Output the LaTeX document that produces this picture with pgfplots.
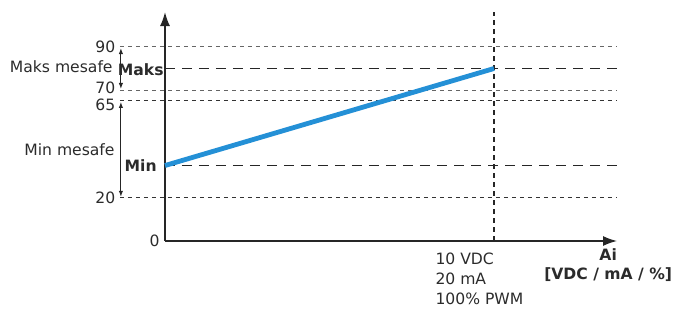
\documentclass[border=0pt]{standalone}
\usepackage{pgfplots}
\pgfplotsset{compat=1.18}
\usetikzlibrary{arrows.meta}
\usepackage{fontspec}
\setmainfont{DejaVu Sans}
\definecolor{lineblue}{HTML}{2490D6}
\definecolor{txt}{HTML}{2B2B2B}
\begin{document}
\begin{tikzpicture}
\begin{axis}[
  x=16.45pt, y=1.078pt,
  xmin=0, xmax=13.74, ymin=0, ymax=106.2,
  axis lines=left,
  axis line style={line width=0.8pt, black!85, -{Latex[length=7pt,width=5pt]}},
  xtick=\empty, ytick=\empty,
  clip=false,
  font=\fontsize{7.8}{10}\selectfont,
]
% invisible bounding box
\path (axis cs:-5.015,-31.54) rectangle (axis cs:16.079,111.78);
% thin dashed reference lines
\addplot[gray!80!black, line width=0.5pt, dash pattern=on 2pt off 2pt] coordinates {(-1.37,90) (13.74,90)};
\addplot[gray!80!black, line width=0.5pt, dash pattern=on 2pt off 2pt] coordinates {(-1.37,70) (13.74,70)};
\addplot[black!80, line width=0.5pt, dash pattern=on 2pt off 2pt] coordinates {(-1.37,65) (13.74,65)};
\addplot[black!80, line width=0.5pt, dash pattern=on 2pt off 2pt] coordinates {(-1.37,20) (13.74,20)};
% Maks / Min lines
\addplot[black!85, line width=0.75pt, dash pattern=on 5pt off 3.5pt] coordinates {(0,80) (13.74,80)};
\addplot[black!85, line width=0.75pt, dash pattern=on 5pt off 3.5pt] coordinates {(0,35) (13.74,35)};
% vertical dashed at 10
\addplot[black!85, line width=0.6pt, dash pattern=on 2.5pt off 2pt] coordinates {(10,0) (10,106)};
% blue line
\addplot[lineblue, line width=2.4pt] coordinates {(0,35) (10,80)};
% range arrows
\draw[black!85, line width=0.5pt, {Latex[length=3pt,width=2.2pt]}-{Latex[length=3pt,width=2.2pt]}] (axis cs:-1.34,89.5) -- (axis cs:-1.34,70.5);
\draw[black!85, line width=0.5pt, {Latex[length=3pt,width=2.2pt]}-{Latex[length=3pt,width=2.2pt]}] (axis cs:-1.34,64.5) -- (axis cs:-1.34,20.5);
% y labels
\begin{scope}[every node/.style={text=txt, font=\fontsize{7.8}{10}\selectfont}]
\node[anchor=east, inner sep=0pt] at (axis cs:-1.50,90) {90};
\node[anchor=east, inner sep=0pt] at (axis cs:-1.50,71.2) {70};
\node[anchor=east, inner sep=0pt] at (axis cs:-1.50,63.3) {65};
\node[anchor=east, inner sep=0pt] at (axis cs:-1.50,20) {20};
\node[anchor=east, inner sep=0pt] at (axis cs:-0.15,0) {0};
\node[anchor=east, inner sep=0pt] at (axis cs:-1.58,80.7) {Maks mesafe};
\node[anchor=east, inner sep=0pt] at (axis cs:-1.52,42.2) {Min mesafe};
\node[anchor=east, inner sep=0pt, font=\fontsize{7.8}{10}\selectfont\bfseries] at (axis cs:-0.03,79.5) {Maks};
\node[anchor=east, inner sep=0pt, font=\fontsize{7.8}{10}\selectfont\bfseries] at (axis cs:-0.24,35.2) {Min};
\node[anchor=north west, inner sep=0pt, align=left] at (axis cs:8.21,-5.3) {10 VDC\\20 mA\\100\% PWM};
\node[inner sep=0pt, font=\fontsize{7.8}{10}\selectfont\bfseries] at (axis cs:13.47,-6.5) {Ai};
\node[inner sep=0pt, font=\fontsize{7.8}{10}\selectfont\bfseries] at (axis cs:13.47,-15.8) {[VDC / mA / \%]};
\end{scope}
\end{axis}
\end{tikzpicture}
\end{document}
